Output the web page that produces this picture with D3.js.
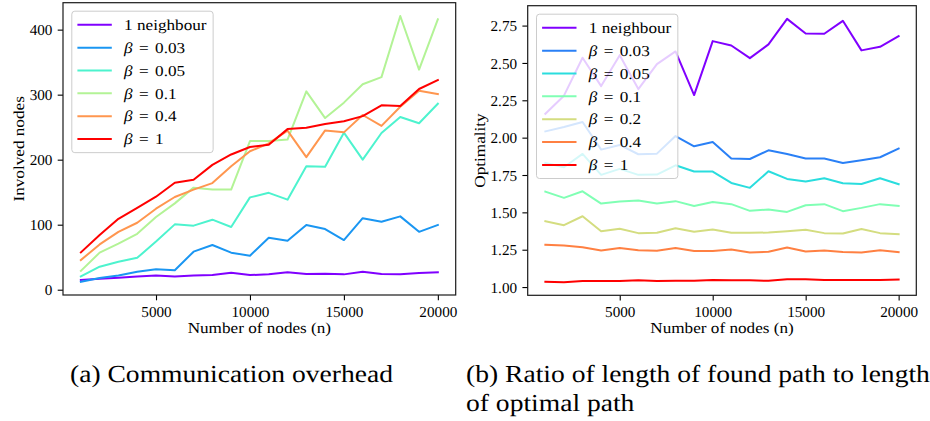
<!DOCTYPE html>
<html><head><meta charset="utf-8">
<script src="https://cdn.jsdelivr.net/npm/d3@7"></script>
<style>
body{margin:0;background:#fff}
svg{display:block;background:#fff}
svg text{text-rendering:geometricPrecision}
</style>
</head><body><svg id="c" width="930" height="421"></svg>
<script>
// ---------- data ----------
const nodeCounts = [1000,2000,3000,4000,5000,6000,7000,8000,9000,10000,11000,12000,13000,14000,15000,16000,17000,18000,19000,20000];

// (a) Involved nodes
const ovNeighbour = [15,17,18.5,20.5,22,20.5,22,22.6,26,22.6,23.6,26.7,24,24.6,23.6,27.7,24,23.6,25.6,26.7];
const ovBeta003   = [12.3,18,22,27.7,31.3,30,58.5,68.7,57,52.3,80,75.4,99.5,93.3,76.4,110,104.6,112.8,89,99.5];
const ovBeta005   = [20.5,35.4,43,49,74,100.5,98.5,107.7,96.4,142,149,138.5,190,189,241.5,200,241,265.6,256,286];
const ovBeta01    = [29,57,70.8,86,111.8,132.8,157,154,154,228.7,228.7,231,305,264,287.7,316,327,421,338.5,416];
const ovBeta04    = [45.6,69.7,89,103,124.6,142.6,154,164,190,213,225,244.6,204,245,242,268.7,252,281.5,306,301];
const ovBeta1     = [57.4,84,109,126,143,164.6,169,192,208,219.5,223,247,249,255,259,267,283.6,282.6,308.7,322.6];
const ovLabels = ["1 neighbour","β = 0.03","β = 0.05","β = 0.1","β = 0.4","β = 1"];
const ovColors = ["#8000ff","#1a96f2","#4df3ce","#b3f396","#ff964f","#ff0000"];

// (b) Optimality
const optNeighbour = [2.160,2.281,2.535,2.345,2.552,2.325,2.492,2.577,2.285,2.646,2.617,2.532,2.624,2.795,2.697,2.695,2.782,2.584,2.608,2.679];
const optBeta003   = [2.042,2.071,2.105,1.920,1.951,1.889,1.893,2.011,1.942,1.971,1.860,1.857,1.915,1.891,1.860,1.860,1.831,1.849,1.869,1.927];
const optBeta005   = [1.831,1.802,1.891,1.751,1.791,1.751,1.753,1.815,1.773,1.773,1.697,1.664,1.775,1.724,1.706,1.728,1.695,1.690,1.728,1.688];
const optBeta01    = [1.639,1.597,1.641,1.559,1.572,1.579,1.559,1.575,1.543,1.570,1.555,1.510,1.519,1.503,1.548,1.555,1.508,1.530,1.555,1.543];
const optBeta02    = [1.441,1.414,1.474,1.374,1.390,1.361,1.363,1.394,1.370,1.385,1.363,1.363,1.365,1.374,1.383,1.361,1.359,1.388,1.361,1.354];
const optBeta04    = [1.283,1.278,1.267,1.245,1.261,1.247,1.243,1.261,1.241,1.241,1.252,1.232,1.236,1.265,1.238,1.245,1.234,1.232,1.247,1.234];
const optBeta1     = [1.036,1.033,1.040,1.040,1.040,1.045,1.040,1.042,1.042,1.047,1.045,1.045,1.042,1.053,1.053,1.047,1.047,1.047,1.047,1.051];
const optLabels = ["1 neighbour","β = 0.03","β = 0.05","β = 0.1","β = 0.2","β = 0.4","β = 1"];
const optColors = ["#8000ff","#2a80f6","#2addde","#80ffb4","#d4dd80","#ff8042","#ff0000"];

const xTicks = [5000,10000,15000,20000];
const ovYTicks = [0,100,200,300,400];
const optYTicks = [1.00,1.25,1.50,1.75,2.00,2.25,2.50,2.75];

const xLabel = "Number of nodes (n)";
const ovYLabel = "Involved nodes";
const optYLabel = "Optimality";
const captionA = "(a) Communication overhead";
const captionB1 = "(b) Ratio of length of found path to length";
const captionB2 = "of optimal path";

// ---------- drawing ----------
const FONT = '"Liberation Serif", Tinos, "Times New Roman", serif';
const S = 1.13;            // horizontal stretch: Computer Modern is wider than Times
const FS = 15.2;           // tick / label font size
const TICK = 5.3, PAD = 5.3;
const EQ_GAP = 0.12;       // extra math spacing around "=" (em)

// approximate Times advance widths (em) for width estimates without forcing layout
const W = {" ":.25,".":.25,"=":.564,"β":.5,"n":.5,"e":.444,"i":.278,"g":.5,"h":.5,"b":.5,"o":.5,"u":.5,"r":.333};
function estWidth(str){ let w=0; for(const c of str) w += (c in W) ? W[c] : .5; return w; }

const svg = d3.select("#c");

function txt(parent, x, y, size, rot){
  return parent.append("text")
    .attr("transform", `translate(${x},${y})` + (rot ? ` rotate(${rot})` : "") + ` scale(${S},1)`)
    .style("font-family", FONT).style("font-size", size + "px").attr("fill", "#000");
}

function panel(cfg){
  const {left,right,top,bottom} = cfg.box;
  const [mn,mx] = d3.extent(cfg.series.flat());
  const ym = (mx-mn)*0.05;
  const [xa,xb] = d3.extent(nodeCounts);
  const xm = (xb-xa)*0.05;
  const x = d3.scaleLinear().domain([xa-xm, xb+xm]).range([left,right]);
  const y = d3.scaleLinear().domain([mn-ym, mx+ym]).range([bottom,top]);
  const g = svg.append("g");

  const line = d3.line().x((d,i)=>x(nodeCounts[i])).y(d=>y(d));
  cfg.series.forEach((s,i)=>{
    g.append("path").attr("d", line(s)).attr("fill","none")
      .attr("stroke", cfg.colors[i]).attr("stroke-width",2).attr("stroke-linejoin","round").attr("stroke-linecap","square");
  });

  const xAxis = d3.axisBottom(x).tickValues(xTicks).tickFormat(d3.format("d")).tickSize(TICK).tickPadding(PAD);
  const yAxis = d3.axisLeft(y).tickValues(cfg.yTicks).tickFormat(cfg.yFmt).tickSize(TICK).tickPadding(PAD);
  const gx = g.append("g").attr("transform",`translate(0,${bottom})`).call(xAxis);
  const gy = g.append("g").attr("transform",`translate(${left},0)`).call(yAxis);
  [gx,gy].forEach(a=>{
    a.attr("font-family", null).attr("font-size", null);
    a.select(".domain").remove();
    a.selectAll(".tick line").attr("stroke","#000").attr("stroke-width",1.1);
    a.selectAll(".tick text").style("font-family",FONT).style("font-size",FS+"px").attr("fill","#000");
  });
  gx.selectAll(".tick text").attr("dy","0.72em");
  gy.selectAll(".tick text").attr("dy","0.34em");

  g.append("rect").attr("x",left).attr("y",top).attr("width",right-left).attr("height",bottom-top)
    .attr("fill","none").attr("stroke","#1a1a1a").attr("stroke-width",1.2);

  // x label
  txt(g, (left+right)/2, bottom+37.5, FS).attr("text-anchor","middle").text(xLabel);

  // y label
  const maxW = d3.max(cfg.yTicks.map(cfg.yFmt), s => estWidth(s)) * FS;
  const yx = left - TICK - PAD - maxW - 6;
  txt(g, yx, (top+bottom)/2, FS, -90).attr("text-anchor","middle").text(cfg.ylabel);

  // legend
  const lg = g.append("g").attr("transform",`translate(${left+8.8},${top+8.5})`);
  const rowH = 22.85, padV = 13.6;
  const frame = lg.append("rect").attr("rx",3).attr("ry",3)
    .attr("fill","#fff").attr("fill-opacity",0.8).attr("stroke","#cccccc").attr("stroke-width",1);
  let tw = 0;
  cfg.labels.forEach((lab,i)=>{
    const cy = padV + i*rowH;
    lg.append("line").attr("x1",5.6).attr("x2",40).attr("y1",cy).attr("y2",cy)
      .attr("stroke",cfg.colors[i]).attr("stroke-width",2);
    const t = txt(lg, 52.3, cy, FS).attr("dy","0.34em");
    let w;
    if (lab.startsWith("β")) {
      const val = lab.slice(lab.indexOf("=")+1).trim();
      t.append("tspan").style("font-style","italic").text("β");
      t.append("tspan").attr("dx", EQ_GAP+"em").text(" =");
      t.append("tspan").attr("dx", EQ_GAP+"em").text(" " + val);
      w = (estWidth(lab) + 2*EQ_GAP) * FS * S;
    } else {
      t.text(lab);
      w = estWidth(lab) * FS * S;
    }
    tw = Math.max(tw, w);
  });
  frame.attr("x",0).attr("y",0).attr("width",52.3+tw+6.5).attr("height",2*padV+(cfg.labels.length-1)*rowH);
}

panel({box:{left:63,right:455.7,top:2.7,bottom:295},
  series:[ovNeighbour,ovBeta003,ovBeta005,ovBeta01,ovBeta04,ovBeta1],
  labels:ovLabels, colors:ovColors, yTicks:ovYTicks, yFmt:d3.format("d"), ylabel:ovYLabel});

panel({box:{left:527.7,right:916.3,top:5.7,bottom:295.3},
  series:[optNeighbour,optBeta003,optBeta005,optBeta01,optBeta02,optBeta04,optBeta1],
  labels:optLabels, colors:optColors, yTicks:optYTicks, yFmt:d3.format(".2f"), ylabel:optYLabel});

// captions
const CFS = 24.4;
txt(svg, 70, 382, CFS).text(captionA);
txt(svg, 466, 382, CFS).text(captionB1);
txt(svg, 466, 411, CFS).text(captionB2);
</script>
</body></html>
